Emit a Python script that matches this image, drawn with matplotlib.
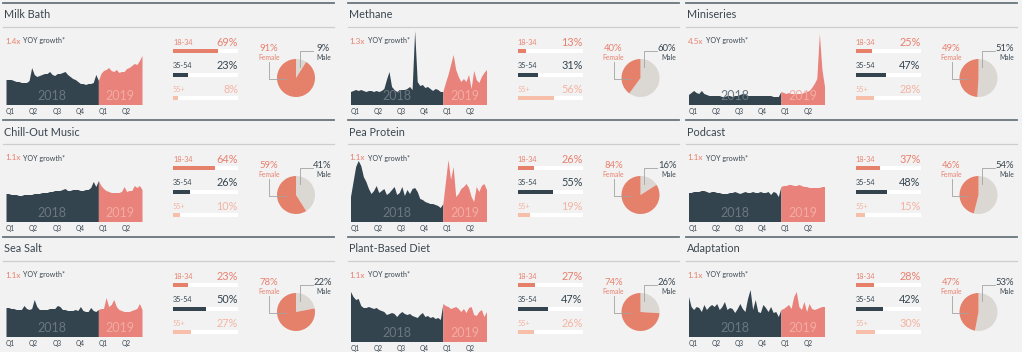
import matplotlib.pyplot as plt
from matplotlib.lines import Line2D
import numpy as np

plt.rcParams['font.family'] = ['Lato', 'DejaVu Sans']

# --- data -------------------------------------------------------------
titles = ["Milk Bath", "Methane", "Miniseries",
          "Chill-Out Music", "Pea Protein", "Podcast",
          "Sea Salt", "Plant-Based Diet", "Adaptation"]
growth = ["1.4x", "1.3x", "4.5x", "1.1x", "1.1x", "1.1x", "1.1x", "1.1x", "1.1x"]

age_labels = ["18-34", "35-54", "55+"]
age_18_34 = [69, 13, 25, 64, 26, 37, 23, 27, 28]
age_35_54 = [23, 31, 47, 26, 55, 48, 50, 47, 42]
age_55_up = [8, 56, 28, 10, 19, 15, 27, 26, 30]

female = [91, 40, 49, 59, 84, 46, 78, 74, 47]
male = [9, 60, 51, 41, 16, 54, 22, 26, 53]

quarters = ["Q1", "Q2", "Q3", "Q4", "Q1", "Q2"]
quarter_pos = [0, 9, 18, 27, 36, 45]
split = 36  # first 2019 point

# search interest index, 2018 (36 pts) + 2019 (18 pts)
milk_bath = [25, 25, 25, 24, 23, 23, 22, 22, 22, 24, 37, 30, 28, 29, 30, 31, 31, 33,
             30, 29, 31, 31, 32, 33, 30, 28, 26, 25, 23, 21, 21, 20, 21, 21, 22, 30,
             24, 31, 34, 35, 37, 34, 33, 35, 32, 33, 33, 36, 37, 39, 41, 40, 44, 49]
methane = [13, 14, 15, 14, 15, 14, 13, 14, 14, 13, 14, 13, 14, 16, 25, 33, 18, 15,
           13, 15, 15, 15, 16, 18, 15, 74, 23, 19, 20, 17, 18, 16, 14, 16, 15, 13,
           13, 22, 30, 40, 50, 35, 28, 23, 26, 23, 30, 16, 34, 25, 22, 28, 32, 35]
miniseries = [10, 12, 14, 12, 11, 14, 11, 10, 9, 9, 9, 9, 9, 8, 8, 9, 9, 8,
              9, 9, 10, 11, 10, 9, 9, 9, 9, 9, 9, 9, 9, 9, 9, 8, 8, 8,
              13, 12, 11, 12, 11, 11, 11, 11, 11, 12, 13, 14, 17, 21, 26, 71, 35, 18]
chill_out = [28, 28, 27, 27, 27, 26, 26, 27, 27, 27, 27, 28, 28, 28, 29, 29, 29, 30,
             30, 31, 31, 31, 32, 33, 31, 31, 32, 32, 32, 31, 31, 32, 32, 34, 40, 35,
             41, 36, 33, 31, 30, 29, 29, 29, 29, 30, 35, 30, 31, 31, 36, 34, 36, 32]
pea_protein = [25, 40, 55, 61, 56, 45, 40, 33, 28, 31, 36, 29, 31, 33, 27, 29, 32, 35,
               27, 29, 35, 26, 32, 28, 33, 34, 30, 23, 22, 20, 19, 18, 18, 17, 16, 14,
               18, 40, 62, 42, 55, 25, 28, 33, 35, 38, 34, 25, 20, 35, 30, 36, 38, 32]
podcast = [29, 29, 30, 30, 30, 31, 31, 30, 29, 30, 30, 29, 29, 28, 28, 28, 29, 29,
           30, 29, 28, 29, 30, 29, 29, 30, 29, 29, 30, 29, 29, 30, 27, 30, 29, 25,
           35, 36, 36, 37, 37, 36, 36, 37, 36, 35, 35, 34, 34, 34, 34, 34, 35, 35]
sea_salt = [29, 29, 28, 28, 27, 27, 27, 31, 28, 27, 28, 37, 30, 27, 27, 27, 27, 28,
            28, 28, 31, 30, 27, 27, 26, 26, 26, 27, 26, 30, 26, 25, 25, 29, 26, 25,
            27, 28, 28, 39, 30, 32, 37, 30, 27, 26, 25, 25, 25, 26, 27, 28, 33, 27]
plant_based = [50, 45, 42, 43, 36, 34, 34, 35, 34, 33, 34, 32, 31, 30, 27, 28, 29, 28,
               25, 28, 30, 28, 27, 28, 26, 25, 24, 27, 29, 25, 26, 24, 25, 23, 24, 22,
               38, 36, 35, 33, 34, 35, 33, 30, 33, 29, 34, 35, 27, 26, 30, 32, 25, 30]
adaptation = [40, 30, 27, 30, 29, 25, 32, 27, 30, 32, 30, 33, 27, 30, 35, 27, 29, 28,
              24, 28, 33, 28, 25, 38, 47, 27, 37, 25, 24, 32, 29, 25, 30, 24, 25, 20,
              27, 28, 30, 32, 28, 40, 45, 30, 27, 35, 25, 33, 28, 27, 28, 29, 30, 30]

series = [milk_bath, methane, miniseries, chill_out, pea_protein, podcast,
          sea_salt, plant_based, adaptation]

# --- style / layout (pixels) ------------------------------------------
W, H = 1022, 352
BG = "#f2f2f2"
DARK = "#34444f"
SALMON = "#e8827a"
BAR_SALMON = "#e5806a"
LIGHT_SALMON = "#f7bfa9"
PIE_GRAY = "#dbd7d3"
TXT = "#3a4650"
age_colors = [BAR_SALMON, DARK, LIGHT_SALMON]
age_text = ["#e8806e", DARK, "#f4b4a2"]

col_x = [0, 344.5, 682.5]
row_y = [0, 117, 234]
area_dy = [0, 0, 0, 0, 0, 0, -2, 3, -2]

fig = plt.figure(figsize=(W / 100, H / 100), dpi=100, facecolor=BG)


def add_ax(x, y, w, h):
    ax = fig.add_axes([x / W, 1 - (y + h) / H, w / W, h / H])
    ax.set_facecolor("none")
    return ax


def ftext(x, y, s, **kw):
    fig.text(x / W, 1 - y / H, s, **kw)


def hline(x0, x1, y, **kw):
    fig.add_artist(Line2D([x0 / W, x1 / W], [1 - y / H, 1 - y / H], **kw))


for k in range(9):
    x0 = col_x[k % 3]
    y0 = row_y[k // 3]

    # header rules + title
    hline(x0 + 3, x0 + 334, y0 + 3, color="#69747c", lw=1.3)
    hline(x0 + 3, x0 + 334, y0 + 27, color="#cdcdcd", lw=0.9)
    ftext(x0 + 4, y0 + 15, titles[k], fontsize=7.8, color=TXT, va="center")

    # growth line
    ftext(x0 + 5, y0 + 41, growth[k], fontsize=5.9, color="#e8806e", va="center")
    ftext(x0 + 23, y0 + 41, "YOY growth*", fontsize=5.1, color=TXT, va="center")

    # area chart
    vals = np.array(series[k])
    x = np.arange(len(vals))
    base = y0 + 104.5 + area_dy[k]
    ax = add_ax(x0 + 6, base - 74.5, 136, 74.5)
    ax.fill_between(x[:split + 1], 0, vals[:split + 1], color=DARK, lw=0)
    ax.fill_between(x[split:], 0, vals[split:], color=SALMON, lw=0)
    ax.set_xlim(0, len(vals) - 1)
    ax.set_ylim(0, 74.5)
    ax.axis("off")
    ax.text(split / 2, 8.5, "2018", ha="center", va="center", fontsize=9,
            color="#6b7780")
    ax.text(split + (len(vals) - 1 - split) / 2, 8.5, "2019", ha="center",
            va="center", fontsize=9, color="#f3aca4")
    for q, p in zip(quarters, quarter_pos):
        ax.text(p, -7, q, ha="left", va="center", fontsize=4.8, color=TXT,
                clip_on=False)

    # age bars
    bx = add_ax(x0 + 173, y0 + 36, 65, 68)
    ages = [age_18_34[k], age_35_54[k], age_55_up[k]]
    bx.barh(range(3), [100] * 3, height=0.17, color="white", lw=0)
    bx.barh(range(3), ages, height=0.17, color=age_colors, lw=0)
    bx.set_xlim(0, 100)
    bx.set_ylim(2.25, -0.64)
    bx.axis("off")
    for i, (lab, v) in enumerate(zip(age_labels, ages)):
        bx.text(0, i - 0.38, lab, ha="left", va="center", fontsize=5.2,
                color=age_text[i])
        bx.text(100, i - 0.37, f"{v}%", ha="right", va="center", fontsize=7.8,
                color=age_text[i])

    # gender pie
    px = add_ax(x0 + 296 - 19, y0 + 78 - 19, 38, 38)
    px.pie([male[k], female[k]], colors=[PIE_GRAY, BAR_SALMON], startangle=90,
           counterclock=False, radius=1, wedgeprops=dict(lw=0))
    px.set_xlim(-1, 1)
    px.set_ylim(-1, 1)
    px.set_aspect("equal")
    px.plot([-1.42, -1.42, -0.53], [0.84, -0.05, -0.05], color="#a3a3a3",
            lw=0.6, clip_on=False)
    px.plot([0.21, 0.21, 0.89], [0.58, 1.42, 1.42], color="#a3a3a3",
            lw=0.6, clip_on=False)
    px.text(-1.42, 1.53, f"{female[k]}%", ha="center", va="center", fontsize=6.8,
            color="#e8806e", clip_on=False)
    px.text(-1.42, 1.1, "Female", ha="center", va="center", fontsize=4.9,
            color="#e8806e", clip_on=False)
    px.text(1.4, 1.53, f"{male[k]}%", ha="center", va="center", fontsize=6.8,
            color=TXT, clip_on=False)
    px.text(1.47, 1.1, "Male", ha="center", va="center", fontsize=4.9,
            color=TXT, clip_on=False)

fig.savefig("out.png", dpi=100, facecolor=BG)
